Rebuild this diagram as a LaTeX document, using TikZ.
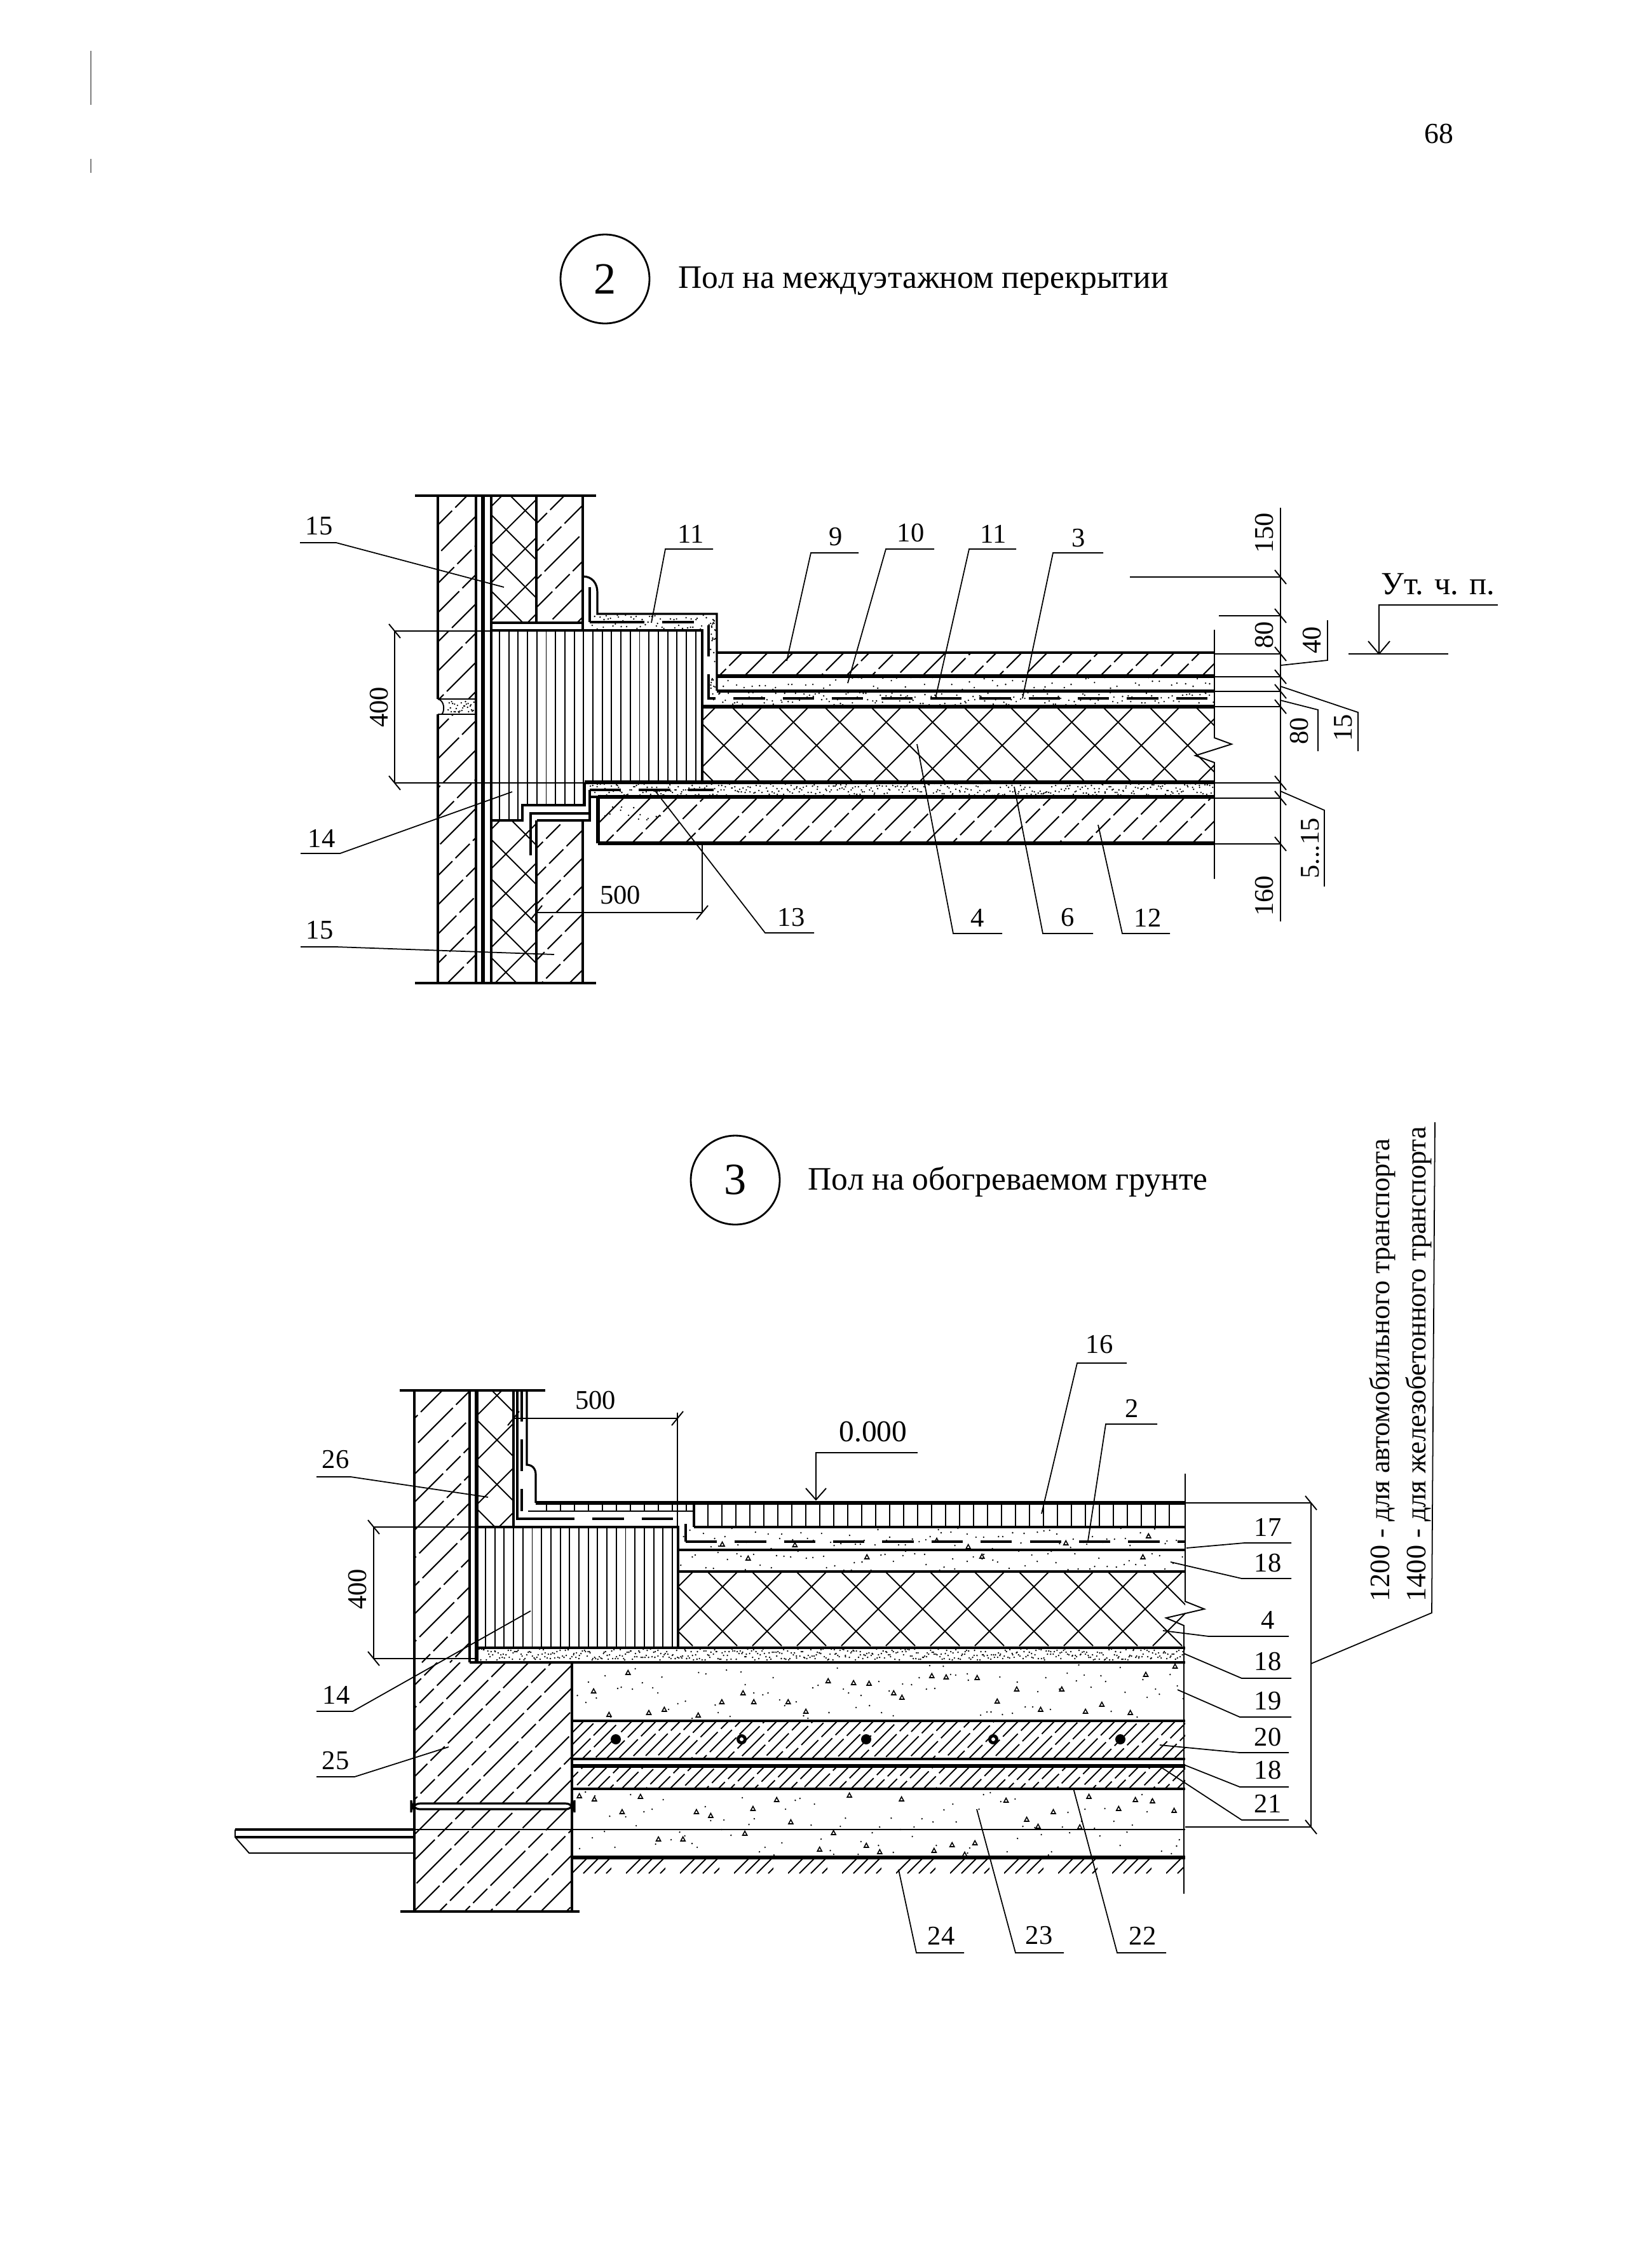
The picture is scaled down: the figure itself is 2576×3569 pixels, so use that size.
\documentclass[tikz,border=0pt]{standalone}
\usepackage{fontspec}
\setmainfont{Liberation Serif}
\newcommand\hatchR[6]{\begin{scope}\clip (#1,#2) rectangle (#3,#4);
\pgfmathtruncatemacro\hcs{#1+#2}\pgfmathtruncatemacro\hcn{\hcs+#5}\pgfmathtruncatemacro\hce{#3+#4}
\foreach \hc in {\hcs,\hcn,...,\hce}{\pgfmathsetmacro\hph{rnd*25}\draw[#6,dash phase=\hph pt] (\hc-#2,#2) -- (\hc-#4,#4);}
\end{scope}}
\newcommand\crossR[7]{\begin{scope}\clip (#1,#2) rectangle (#3,#4);
\pgfmathtruncatemacro\hcs{#1+#2-Mod(#1+#2-#6,#5)}\pgfmathtruncatemacro\hcn{\hcs+#5}\pgfmathtruncatemacro\hce{#3+#4+#5}
\foreach \hc in {\hcs,\hcn,...,\hce}{\draw[thinl] (\hc-#2,#2) -- (\hc-#4,#4);}
\pgfmathtruncatemacro\hds{#1-#4-Mod(#1-#4-#7,#5)}\pgfmathtruncatemacro\hdn{\hds+#5}\pgfmathtruncatemacro\hde{#3-#2+#5}
\foreach \hd in {\hds,\hdn,...,\hde}{\draw[thinl] (\hd+#2,#2) -- (\hd+#4,#4);}
\end{scope}}
\newcommand\specks[5]{\foreach \sk in {1,...,#5}{\pgfmathsetmacro\skx{#1+(\sk-rnd)/#5*(#3-#1)}\pgfmathrandominteger\sky{#2}{#4}\fill (\skx,\sky) circle (1.3);}}
\newcommand\aggs[5]{\foreach \sk in {1,...,#5}{\pgfmathsetmacro\skx{#1+(\sk-rnd)/#5*(#3-#1)}\pgfmathrandominteger\sky{#2}{#4}\draw[line width=.45pt] (\skx-3.5,\sky+3) -- (\skx+3.5,\sky+3) -- (\skx,\sky-3.5) -- cycle;}}
\newcommand\tickb[2]{\draw[thinl] (#1-9,#2-11) -- (#1+9,#2+11);}
\newcommand\tickf[2]{\draw[thinl] (#1-9,#2+11) -- (#1+9,#2-11);}
\tikzset{
 x=0.01cm,y=-0.01cm,
 thinl/.style={line width=.55pt,black},
 midl/.style={line width=.9pt,black},
 thickl/.style={line width=1.5pt,black},
 lead/.style={line width=.5pt,black},
 dsh/.style={line width=.6pt,black,dash pattern=on 22pt off 2pt on 9pt off 2pt},
 dense/.style={line width=.55pt,black,dash pattern=on 14pt off 2pt},
 memb/.style={line width=1.2pt,black,dash pattern=on 14pt off 8pt},
 lbl/.style={font=\fontsize{12.1}{14}\selectfont,inner sep=0pt,text=black},
 ttl/.style={font=\fontsize{14.65}{16}\selectfont,inner sep=0pt,text=black},
 ring/.style={circle,draw=black,line width=.8pt,minimum size=39.8pt,inner sep=0pt,font=\fontsize{20}{22}\selectfont},
}
\begin{document}
\begin{tikzpicture}
\pgfmathsetseed{4217}
\path[use as bounding box,fill=white] (0,0) rectangle (2576,3569);
% margin marks
\draw[line width=.3pt,gray] (143,80) -- (143,165) (143,250) -- (143,272);
\node[lbl,font=\fontsize{13}{15}\selectfont] (pg) at (2264,211) {68};
% headers
\node[ring] (c2) at (952,439) {2};
\node[ttl,anchor=west] (t2) at (1067,442) {Пол на междуэтажном перекрытии};
\node[ring] (c3) at (1157,1857) {3};
\node[ttl,anchor=west] (t3) at (1271,1860) {Пол на обогреваемом грунте};

%%%%%%%%%%%% DETAIL 2
\hatchR{689}{780}{749}{1547}{46}{dsh}
\hatchR{844}{780}{917}{980}{44}{dsh}
\hatchR{844}{1291}{917}{1547}{44}{dsh}
\crossR{773}{780}{844}{980}{60}{1630}{-37}
\crossR{773}{1291}{844}{1547}{62}{2202}{-610}
\crossR{1105}{1112}{1911}{1231}{73}{2385}{39}
\hatchR{1128}{1027}{1911}{1064}{40}{dsh}
\hatchR{941}{1254}{1911}{1327}{42}{dsh}
% joint
\fill[white] (685,1100) rectangle (749,1124);
\specks{705}{1103}{747}{1121}{30}
\draw[thinl] (689,1100) -- (749,1100) (689,1124) -- (749,1124);
\draw[thinl] (689,1100) .. controls (700,1102) and (700,1120) .. (695,1124);
% block
\begin{scope}
\clip (773,992) -- (1105,992) -- (1105,1231) -- (920,1231) -- (920,1267) -- (822,1267) -- (822,1291) -- (773,1291) -- cycle;
\foreach \xx in {786,800.7,...,1100}{\draw[thinl] (\xx,992) -- (\xx,1291);}
\end{scope}
\draw[midl] (773,992) -- (1105,992) -- (1105,1231) (773,980) -- (917,980);
% wall lines
\draw[midl] (689,780) -- (689,1100) (689,1124) -- (689,1547);
\draw[midl] (749,780) -- (749,1547) (773,780) -- (773,1547);
\draw[thickl] (760,780) -- (760,1547);
\draw[midl] (844,780) -- (844,980) (917,780) -- (917,992);
\draw[midl] (844,1291) -- (844,1547) (917,1291) -- (917,1547);
\draw[midl] (653,780) -- (938,780) (653,1547) -- (938,1547);
% upper floor layers
\specks{1130}{1066}{1911}{1086}{70}
\specks{1118}{1090}{1911}{1110}{170}
\specks{1118}{968}{1126}{1085}{25}
\specks{930}{968}{1126}{990}{60}
\specks{921}{1233}{1911}{1252}{420}
\specks{935}{1270}{1040}{1290}{15}
\draw[midl] (1128,1027) -- (1911,1027);
\draw[thickl] (1128,1064) -- (1911,1064);
\draw[thickl] (1128,1087.5) -- (1911,1087.5);
\draw[thickl] (1105,1112) -- (1911,1112);
% membrane upper
\draw[midl] (917,907) .. controls (932,907) and (940,918) .. (940,932) -- (940,966) -- (1128,966) -- (1128,1087);
\draw[midl] (928,924) -- (928,979);
\draw[midl] (928,979) -- (965,979);
\draw[memb] (965,979) -- (1115,979) -- (1115,1099) -- (1911,1099);
% lower floor layers
\draw[thickl] (920,1231) -- (1911,1231);
\draw[thickl] (941,1254) -- (1911,1254);
\draw[thickl] (941,1327) -- (1911,1327);
\draw[thickl] (941,1254) -- (941,1327);
\draw[midl] (920,1231) -- (920,1267) -- (822,1267) -- (822,1291) -- (773,1291);
\draw[midl] (941,1254) -- (928,1254) -- (928,1291) -- (845,1291);
\draw[midl] (928,1243) -- (928,1280);
\draw[memb] (928,1243) -- (1123,1243);
\draw[midl] (928,1280) -- (835,1280) -- (835,1346);
% right edge with break
\draw[thinl] (1911,991) -- (1911,1161) -- (1938,1171) -- (1881,1189) -- (1911,1200) -- (1911,1383);
% dimensions right
\draw[thinl] (2015,799) -- (2015,1450);
\foreach \yy/\xs in {908/1778,969/1918,1029/1911,1065/1911,1088/1911,1112/1911,1232/1911,1256/1911,1328/1911}{
 \draw[thinl] (\xs,\yy) -- (2015,\yy); \tickb{2015}{\yy}}
\node[lbl,rotate=90] (d150) at (1990,839) {150};
\node[lbl,rotate=90] (d80a) at (1990,999) {80};
\node[lbl,rotate=90] (d40) at (2065,1007) {40};
\draw[lead] (2015,1047) -- (2089,1039) -- (2089,976);
\node[lbl,rotate=90] (d80b) at (2045,1150) {80};
\draw[lead] (2015,1102) -- (2074,1117) -- (2074,1182);
\node[lbl,rotate=90] (d15) at (2114,1145) {15};
\draw[lead] (2015,1080) -- (2137,1121) -- (2137,1182);
\node[lbl,rotate=90] (d515) at (2062,1335) {5...15};
\draw[lead] (2015,1245) -- (2084,1275) -- (2084,1395);
\node[lbl,rotate=90] (d160) at (1990,1410) {160};
% level
\node[lbl,font=\fontsize{14.4}{16}\selectfont] (ut) at (2263,919) {Ут. ч. п.};
\draw[thinl] (2357,952) -- (2170,952) -- (2170,1029);
\draw[thinl] (2122,1029) -- (2279,1029);
\draw[thinl] (2153,1009) -- (2170,1029) -- (2187,1009);
% dim 400
\draw[thinl] (621,993) -- (621,1232);
\draw[thinl] (621,993) -- (773,993) (621,1232) -- (920,1232);
\tickb{621}{993}\tickb{621}{1232}
\node[lbl,rotate=90] (d400) at (597,1113) {400};
% dim 500
\draw[thinl] (844,1436) -- (1105,1436) (1105,1327) -- (1105,1436);
\tickf{844}{1436}\tickf{1105}{1436}
\node[lbl] (d500) at (976,1409) {500};
% leaders detail 2
\node[lbl] (a15) at (502,828) {15};
\draw[lead] (472,854) -- (529,854) -- (793,924);
\node[lbl] (a14) at (506,1319) {14};
\draw[lead] (473,1343) -- (535,1343) -- (806,1246);
\node[lbl] (b15) at (503,1464) {15};
\draw[lead] (473,1490) -- (529,1490) -- (872,1502);
\node[lbl] (a13) at (1245,1444) {13};
\draw[lead] (1281,1468) -- (1204,1468) -- (1029,1242);
\node[lbl] (a11) at (1087,840) {11};
\draw[lead] (1122,864) -- (1047,864) -- (1025,980);
\node[lbl] (a9) at (1315,845) {9};
\draw[lead] (1351,870) -- (1276,870) -- (1238,1040);
\node[lbl] (a10) at (1433,839) {10};
\draw[lead] (1470,864) -- (1394,864) -- (1334,1075);
\node[lbl] (b11) at (1563,840) {11};
\draw[lead] (1599,864) -- (1525,864) -- (1472,1099);
\node[lbl] (a3) at (1697,847) {3};
\draw[lead] (1736,870) -- (1657,870) -- (1609,1099);
\node[lbl] (a4) at (1538,1444) {4};
\draw[lead] (1577,1469) -- (1500,1469) -- (1443,1171);
\node[lbl] (a6) at (1680,1444) {6};
\draw[lead] (1720,1469) -- (1641,1469) -- (1596,1238);
\node[lbl] (a12) at (1806,1444) {12};
\draw[lead] (1841,1469) -- (1766,1469) -- (1728,1298);

%%%%%%%%%%%% DETAIL 3
\hatchR{652}{2188}{739}{2616}{44}{dsh}
\crossR{749}{2188}{808}{2403}{70}{3048}{-1484}
\crossR{1067}{2473}{1865}{2590}{70}{3774}{-1290}
\hatchR{652}{2616}{900}{2838}{36}{dsh}
\hatchR{652}{2847}{900}{3008}{40}{dsh}
\hatchR{900}{2708}{1865}{2768}{19}{dense}
\hatchR{900}{2779}{1865}{2815}{19}{dense}
% ground
\begin{scope}
\clip (900,2923) rectangle (1863,2948);
\foreach \gx in {900,985,1070,1155,1240,1325,1410,1495,1580,1665,1750,1835}{
 \begin{scope}\clip (\gx,2923) rectangle (\gx+62,2948);
 \foreach \gs in {0,18,36,54,72}{\draw[thinl] (\gx+\gs,2948) -- (\gx+\gs+25,2923);}
 \end{scope}}
\end{scope}
% block
\foreach \xx in {764,778.7,...,1062}{\draw[thinl] (\xx,2403) -- (\xx,2593);}
\draw[midl] (752,2403) -- (1067,2403) -- (1067,2593);
\foreach \xx in {1114,1136,...,1860}{\draw[thinl] (\xx,2365) -- (\xx,2403);}
\foreach \xx in {860,882,...,1090}{\draw[thinl] (\xx,2365) -- (\xx,2378);}
% rebars
\foreach \xx in {969,1167,1363,1563,1763}{\fill (\xx,2737) circle (8);}
\fill[white] (1167,2737) circle (3) (1563,2737) circle (3);
% fill textures
\specks{753}{2595}{1865}{2612}{520}
\specks{1070}{2405}{1865}{2438}{80}
\aggs{1100}{2408}{1860}{2436}{6}
\specks{1070}{2441}{1865}{2471}{70}
\aggs{1080}{2443}{1860}{2470}{4}
\specks{902}{2620}{1865}{2704}{90}
\aggs{905}{2622}{1860}{2700}{28}
\specks{902}{2819}{1865}{2919}{90}
\aggs{905}{2822}{1860}{2918}{32}
% layers
\draw[thickl] (843,2365) -- (1865,2365);
\draw[midl] (1092,2403) -- (1865,2403);
\draw[thinl] (831,2378) -- (1092,2378);
\draw[midl] (1067,2439) -- (1865,2439);
\draw[midl] (1067,2473) -- (1865,2473);
\draw[midl] (752,2593) -- (1865,2593);
\draw[midl] (739,2616) -- (1865,2616);
\draw[midl] (900,2708) -- (1865,2708);
\draw[midl] (900,2768) -- (1865,2768);
\draw[thickl] (900,2779) -- (1865,2779);
\draw[midl] (900,2815) -- (1865,2815);
\draw[thinl] (370,2879) -- (1865,2879);
\draw[thickl] (900,2923) -- (1865,2923);
% wall lines
\draw[midl] (652,2188) -- (652,3008);
\draw[midl] (739,2188) -- (739,2616);
\draw[thickl] (750,2188) -- (750,2616);
\draw[midl] (808,2188) -- (808,2403);
\draw[midl] (900,2616) -- (900,3006);
\draw[midl] (629,2188) -- (858,2188) (630,3008) -- (912,3008);
% band
\draw[midl,fill=white,rounded corners=4] (647,2838) rectangle (904,2847);
% paving
\draw[midl] (370,2879) -- (652,2879);
\draw[midl] (370,2891) -- (652,2891);
\draw[thinl] (370,2879) -- (370,2891) -- (392,2916) -- (652,2916);
% membrane
\draw[midl] (829,2188) -- (829,2305) .. controls (838,2305) and (843,2312) .. (843,2320) -- (843,2365);
\draw[midl] (814,2188) -- (814,2390) -- (855,2390);
\draw[memb] (855,2390) -- (1079,2390) -- (1079,2426);
\draw[memb] (1079,2426) -- (1865,2426);
\draw[memb] (821,2188) -- (821,2378);
\draw[midl] (1092,2365) -- (1092,2403);
% right edge
\draw[thinl] (1865,2319) -- (1865,2520) -- (1895,2532) -- (1835,2546) -- (1863,2558) -- (1863,2980);
% dims
\draw[thinl] (808,2232) -- (1066,2232) (1066,2223) -- (1066,2403);
\tickf{1066}{2232}\tickf{808}{2232}
\node[lbl] (e500) at (937,2204) {500};
\draw[thinl] (588,2403) -- (588,2610);
\draw[thinl] (588,2403) -- (752,2403) (588,2610) -- (752,2610);
\tickb{588}{2403}\tickb{588}{2610}
\node[lbl,rotate=90] (e400) at (563,2501) {400};
\draw[thinl] (1865,2365) -- (2063,2365) (1865,2875) -- (2063,2875) (2063,2365) -- (2063,2875);
\tickb{2063}{2365}\tickb{2063}{2875}
\draw[lead] (2063,2618) -- (2253,2538) -- (2258,1766);
\node[lbl,rotate=90,anchor=west,font=\fontsize{12.6}{14}\selectfont] (tr1) at (2175,2521) {1200 - для автомобильного транспорта};
\node[lbl,rotate=90,anchor=west,font=\fontsize{12.6}{14}\selectfont] (tr2) at (2232,2521) {1400 - для железобетонного транспорта};
% level
\node[lbl,font=\fontsize{13.5}{15}\selectfont] (lev) at (1374,2253) {0.000};
\draw[thinl] (1444,2286) -- (1284,2286) -- (1284,2360);
\draw[thinl] (1268,2342) -- (1284,2360) -- (1300,2342);
% leaders detail 3
\node[lbl] (c26) at (528,2297) {26};
\draw[lead] (498,2324) -- (552,2324) -- (768,2356);
\node[lbl] (c14) at (529,2667) {14};
\draw[lead] (498,2693) -- (555,2693) -- (835,2535);
\node[lbl] (c25) at (528,2771) {25};
\draw[lead] (498,2796) -- (558,2796) -- (706,2749);
\node[lbl] (c16) at (1730,2116) {16};
\draw[lead] (1773,2145) -- (1695,2145) -- (1639,2382);
\node[lbl] (c2n) at (1781,2216) {2};
\draw[lead] (1821,2241) -- (1740,2241) -- (1712,2425);
\node[lbl] (c17) at (1995,2403) {17};
\draw[lead] (2032,2428) -- (1958,2428) -- (1867,2436);
\node[lbl] (c18a) at (1995,2460) {18};
\draw[lead] (2032,2484) -- (1954,2484) -- (1842,2458);
\node[lbl] (c4) at (1995,2549) {4};
\draw[lead] (2028,2575) -- (1902,2575) -- (1830,2566);
\node[lbl] (c18b) at (1995,2615) {18};
\draw[lead] (2032,2641) -- (1954,2641) -- (1863,2602);
\node[lbl] (c19) at (1995,2677) {19};
\draw[lead] (2032,2702) -- (1951,2702) -- (1853,2659);
\node[lbl] (c20) at (1995,2734) {20};
\draw[lead] (2028,2758) -- (1951,2758) -- (1825,2746);
\node[lbl] (c18c) at (1995,2786) {18};
\draw[lead] (2028,2812) -- (1951,2812) -- (1863,2777);
\node[lbl] (c21) at (1995,2838) {21};
\draw[lead] (2028,2864) -- (1954,2864) -- (1821,2777);
\node[lbl] (c24) at (1481,3046) {24};
\draw[lead] (1517,3073) -- (1442,3073) -- (1414,2942);
\node[lbl] (c23) at (1635,3046) {23};
\draw[lead] (1674,3073) -- (1598,3073) -- (1537,2847);
\node[lbl] (c22) at (1798,3046) {22};
\draw[lead] (1835,3073) -- (1758,3073) -- (1689,2814);
\end{tikzpicture}
\end{document}
